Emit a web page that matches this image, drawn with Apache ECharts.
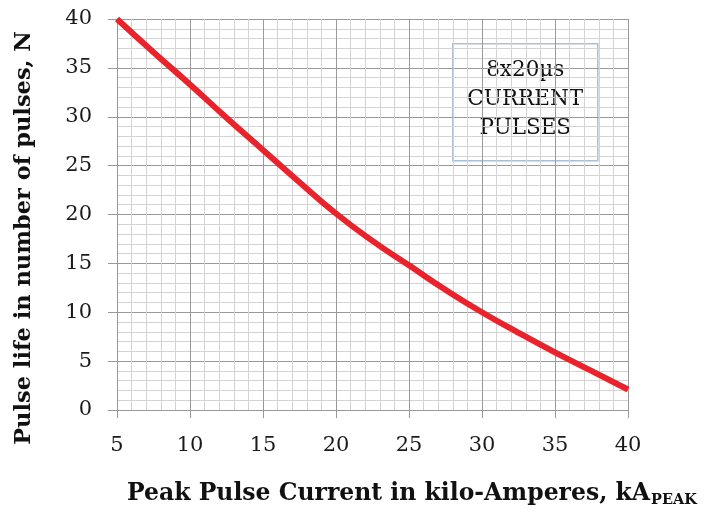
<!DOCTYPE html>
<html>
<head>
<meta charset="utf-8">
<script src="https://cdn.jsdelivr.net/npm/echarts@6/dist/echarts.min.js"></script>
</head>
<body style="margin:0; background:#FFFFFF">
<div id="chart" style="width:714px; height:514px"></div>
<script>
// peak pulse current, kA
var current = [5, 7.5, 10, 12.5, 15, 17.5, 20, 22.5, 25, 27.5, 30, 32.5, 35, 37.5, 40];
// pulse life, N
var pulses = [40, 36.6, 33.3, 29.9, 26.6, 23.3, 20.1, 17.3, 14.8, 12.3, 10.0, 7.9, 5.9, 4.0, 2.1];
var boxLines = ['8x20\u00b5s', 'CURRENT', 'PULSES'];
var yTitle = 'Pulse life in number of pulses, N';

var chart = echarts.init(document.getElementById('chart'));
var serif = '"DejaVu Serif", "Liberation Serif", serif';

var option = {
  animation: false,
  title: {
    text: '{a|Peak Pulse Current in kilo-Amperes, kA}{b|PEAK}',
    left: 122,
    top: 474,
    textStyle: {
      rich: {
        a: { fontFamily: serif, fontWeight: 'bold', fontSize: 23.5, color: '#111' },
        b: { fontFamily: serif, fontWeight: 'bold', fontSize: 14.5, color: '#111', padding: [14, 0, 0, 1] }
      }
    }
  },
  grid: { left: 117, right: 86, top: 19, bottom: 104 },
  xAxis: {
    type: 'value',
    min: 5,
    max: 40,
    interval: 5,
    axisLine: { show: true, lineStyle: { color: '#999', width: 1 } },
    axisTick: { show: true, length: 8, lineStyle: { color: '#999' } },
    axisLabel: { fontFamily: serif, fontSize: 21, color: '#1a1a1a', margin: 25 },
    splitLine: { show: true, lineStyle: { color: '#999', width: 1 } },
    minorTick: { show: false, splitNumber: 5 },
    minorSplitLine: { show: true, lineStyle: { color: '#d3d3d3', width: 1 } }
  },
  yAxis: {
    type: 'value',
    min: 0,
    max: 40,
    interval: 5,
    axisLine: { show: true, lineStyle: { color: '#999', width: 1 } },
    axisTick: { show: true, length: 9, lineStyle: { color: '#999' } },
    axisLabel: { fontFamily: serif, fontSize: 21, color: '#1a1a1a', margin: 25 },
    splitLine: { show: true, lineStyle: { color: '#999', width: 1 } },
    minorTick: { show: false, splitNumber: 5 },
    minorSplitLine: { show: true, lineStyle: { color: '#d3d3d3', width: 1 } }
  },
  series: [{
    type: 'line',
    data: current.map(function (c, i) { return [c, pulses[i]]; }),
    smooth: true,
    showSymbol: false,
    lineStyle: { color: '#e8232b', width: 6 },
    z: 5
  }],
  graphic: [{
    type: 'text',
    x: 24,
    y: 238,
    rotation: Math.PI / 2,
    style: {
      text: yTitle,
      fontFamily: serif,
      fontWeight: 'bold',
      fontSize: 22.5,
      fill: '#111',
      align: 'center',
      verticalAlign: 'middle'
    }
  }, {
    type: 'group',
    left: 452,
    top: 43,
    z: 10,
    children: [{
      type: 'rect',
      shape: { x: 0, y: 0, width: 145, height: 117 },
      style: { fill: '#ffffff', stroke: '#a8c0d8', lineWidth: 1.5 }
    }, {
      type: 'text',
      x: 72.5,
      y: 56,
      style: {
        text: boxLines.join('\n'),
        fontFamily: serif,
        fontSize: 21.5,
        lineHeight: 29,
        fill: '#111',
        align: 'center',
        verticalAlign: 'middle'
      }
    }]
  }]
};

chart.setOption(option);
</script>
</body>
</html>
